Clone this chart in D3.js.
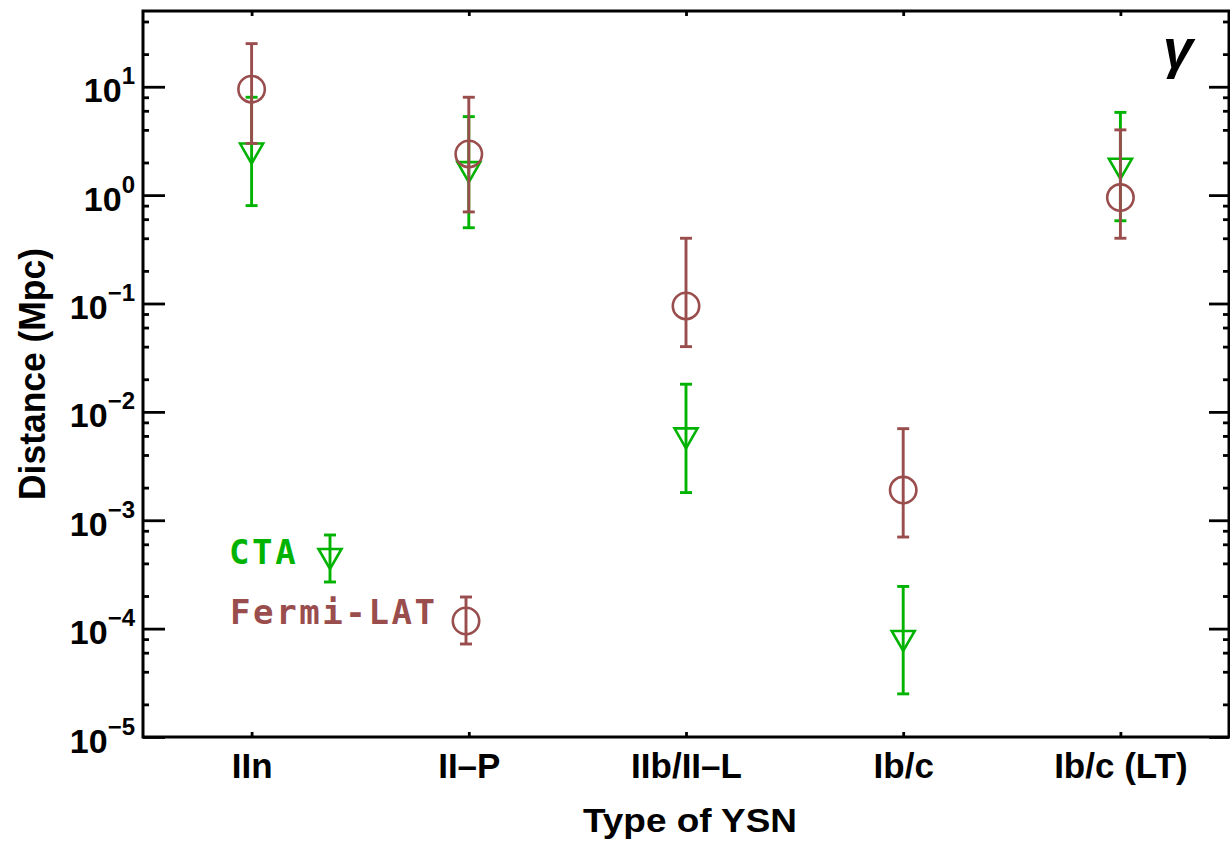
<!DOCTYPE html>
<html>
<head>
<meta charset="utf-8">
<script src="https://cdn.jsdelivr.net/npm/d3@7"></script>
<style>
  html, body { margin: 0; padding: 0; background: #fff; }
  svg { display: block; }
</style>
</head>
<body>
<svg id="chart" width="1230" height="843"></svg>
<script>
// ---- data ----
const categories = ["IIn", "II–P", "IIb/II–L", "Ib/c", "Ib/c (LT)"];
const fermiValues = [9.5, 2.4, 0.095, 0.0019, 0.95];
const fermiLow    = [3.0, 0.7, 0.04, 0.0007, 0.4];
const fermiHigh   = [25, 8, 0.4, 0.007, 4];
const ctaValues   = [2.42, 1.63, 0.0057, 7.7e-5, 1.75];
const ctaLow      = [0.8, 0.5, 0.0018, 2.5e-5, 0.58];
const ctaHigh     = [8, 5.3, 0.018, 2.45e-4, 5.8];
const majorTicks  = [1e-5, 1e-4, 1e-3, 1e-2, 1e-1, 1, 10];
const majorExps   = ["−5", "−4", "−3", "−2", "−1", "0", "1"];
const seriesNames = ["CTA", "Fermi-LAT"];

const green = "#00b300";
const brown = "#9a4d4d";

const svg = d3.select("#chart");
const L = 143, R = 1229, T = 11, B = 737;

const x = d3.scalePoint().domain(categories).range([L, R]).padding(0.5);
const y = d3.scaleLog().domain([1e-5, 50]).range([B, T]);

// minor ticks 2,4,6,8 per decade
const minorTicks = [];
for (let e = -5; e <= 1; e++) {
  for (const m of [2, 4, 6, 8]) {
    const v = m * Math.pow(10, e);
    if (v <= 50) minorTicks.push(v);
  }
}

const font = "'Liberation Sans', Arial, Helvetica, sans-serif";

// ---- data marks ----
const marks = svg.append("g");

function errorBars(g, vals, lo, hi, color) {
  const cap = 6;
  const d = categories.map((c, i) => ({c, v: vals[i], lo: lo[i], hi: hi[i]}));
  const eg = g.append("g").attr("stroke", color).attr("stroke-width", 2.9).attr("fill", "none");
  eg.selectAll("line.v").data(d).join("line")
    .attr("x1", d => x(d.c)).attr("x2", d => x(d.c))
    .attr("y1", d => y(d.lo)).attr("y2", d => y(d.hi));
  eg.selectAll("line.t").data(d).join("line").attr("class", "t")
    .attr("x1", d => x(d.c) - cap).attr("x2", d => x(d.c) + cap)
    .attr("y1", d => y(d.hi)).attr("y2", d => y(d.hi));
  eg.selectAll("line.b").data(d).join("line").attr("class", "b")
    .attr("x1", d => x(d.c) - cap).attr("x2", d => x(d.c) + cap)
    .attr("y1", d => y(d.lo)).attr("y2", d => y(d.lo));
  return d;
}

const triPath = "M-11.5,-10 L11.5,-10 L0,10 Z";

// CTA
const ctaG = marks.append("g");
const ctaD = errorBars(ctaG, ctaValues, ctaLow, ctaHigh, green);
ctaG.selectAll("path.m").data(ctaD).join("path")
  .attr("d", triPath)
  .attr("transform", d => `translate(${x(d.c)},${y(d.v)})`)
  .attr("fill", "none").attr("stroke", green).attr("stroke-width", 2.6);

// Fermi
const fG = marks.append("g");
const fD = errorBars(fG, fermiValues, fermiLow, fermiHigh, brown);
fG.selectAll("circle.m").data(fD).join("circle")
  .attr("cx", d => x(d.c)).attr("cy", d => y(d.v)).attr("r", 13.2)
  .attr("fill", "none").attr("stroke", brown).attr("stroke-width", 2.6);

// ---- axes ----
const axG = svg.append("g");

const leftMajor = axG.append("g").attr("transform", `translate(${L},0)`)
  .call(d3.axisLeft(y).tickValues(majorTicks).tickSizeInner(-22).tickSizeOuter(0).tickFormat(""));
axG.append("g").attr("transform", `translate(${L},0)`)
  .call(d3.axisLeft(y).tickValues(minorTicks).tickSizeInner(-6).tickSizeOuter(0).tickFormat(""));
axG.append("g").attr("transform", `translate(${R},0)`)
  .call(d3.axisRight(y).tickValues(majorTicks).tickSizeInner(-20).tickSizeOuter(0).tickFormat(""));
axG.append("g").attr("transform", `translate(${R},0)`)
  .call(d3.axisRight(y).tickValues(minorTicks).tickSizeInner(-6).tickSizeOuter(0).tickFormat(""));
const bottomAx = axG.append("g").attr("transform", `translate(0,${B})`)
  .call(d3.axisBottom(x).tickSizeInner(-5).tickSizeOuter(0).tickPadding(16));
axG.append("g").attr("transform", `translate(0,${T})`)
  .call(d3.axisTop(x).tickSizeInner(-5).tickSizeOuter(0).tickFormat(""));

axG.selectAll(".domain").remove();
axG.selectAll(".tick line").attr("stroke", "#000").attr("stroke-width", 2.8);

// bottom labels
bottomAx.selectAll(".tick text")
  .attr("font-family", font).attr("font-weight", "bold").attr("font-size", 35)
  .attr("fill", "#000").attr("dy", "0.71em");

// y tick labels with superscripts
leftMajor.selectAll(".tick").each(function(d) {
  const t = d3.select(this).append("text")
    .attr("x", -8).attr("y", 15)
    .attr("text-anchor", "end")
    .attr("font-family", font).attr("font-weight", "bold").attr("font-size", 34)
    .attr("fill", "#000");
  t.append("tspan").text("10");
  t.append("tspan").attr("font-size", 24).attr("dy", -18).text(majorExps[majorTicks.indexOf(d)]);
});

// frame
svg.append("rect").attr("x", L).attr("y", T).attr("width", R - L).attr("height", B - T)
  .attr("fill", "none").attr("stroke", "#000").attr("stroke-width", 3);

// axis titles
svg.append("text")
  .attr("transform", `translate(45,374) rotate(-90)`)
  .attr("text-anchor", "middle")
  .attr("font-family", font).attr("font-weight", "bold").attr("font-size", 36)
  .attr("textLength", 252).attr("lengthAdjust", "spacingAndGlyphs")
  .text("Distance (Mpc)");

svg.append("text")
  .attr("x", 690).attr("y", 832)
  .attr("text-anchor", "middle")
  .attr("font-family", font).attr("font-weight", "bold").attr("font-size", 34)
  .attr("textLength", 214).attr("lengthAdjust", "spacingAndGlyphs")
  .text("Type of YSN");

// gamma
svg.append("text")
  .attr("x", 1163).attr("y", 68)
  .attr("font-family", font).attr("font-weight", "bold").attr("font-style", "italic")
  .attr("font-size", 54)
  .text("γ");

// ---- legend ----
const mono = "'DejaVu Sans Mono', monospace";
const leg = svg.append("g");
leg.append("text").attr("x", 229).attr("y", 564)
  .attr("font-family", mono).attr("font-weight", "bold").attr("font-size", 34)
  .attr("letter-spacing", 2.6).attr("fill", green).text(seriesNames[0]);
leg.append("text").attr("x", 230).attr("y", 624)
  .attr("font-family", mono).attr("font-weight", "bold").attr("font-size", 34)
  .attr("letter-spacing", 2.6).attr("fill", brown).text(seriesNames[1]);

function legendMarker(cx, cy, color, kind) {
  const g = leg.append("g").attr("transform", `translate(${cx},${cy})`)
    .attr("stroke", color).attr("fill", "none");
  g.append("line").attr("y1", -24).attr("y2", 23).attr("stroke-width", 2.9);
  g.append("line").attr("x1", -6).attr("x2", 6).attr("y1", -24).attr("y2", -24).attr("stroke-width", 2.9);
  g.append("line").attr("x1", -6).attr("x2", 6).attr("y1", 23).attr("y2", 23).attr("stroke-width", 2.9);
  if (kind === "tri") g.append("path").attr("d", triPath).attr("stroke-width", 2.6);
  else g.append("circle").attr("r", 13.2).attr("stroke-width", 2.6);
}
legendMarker(330, 559, green, "tri");
legendMarker(466, 621, brown, "circ");
</script>
</body>
</html>
